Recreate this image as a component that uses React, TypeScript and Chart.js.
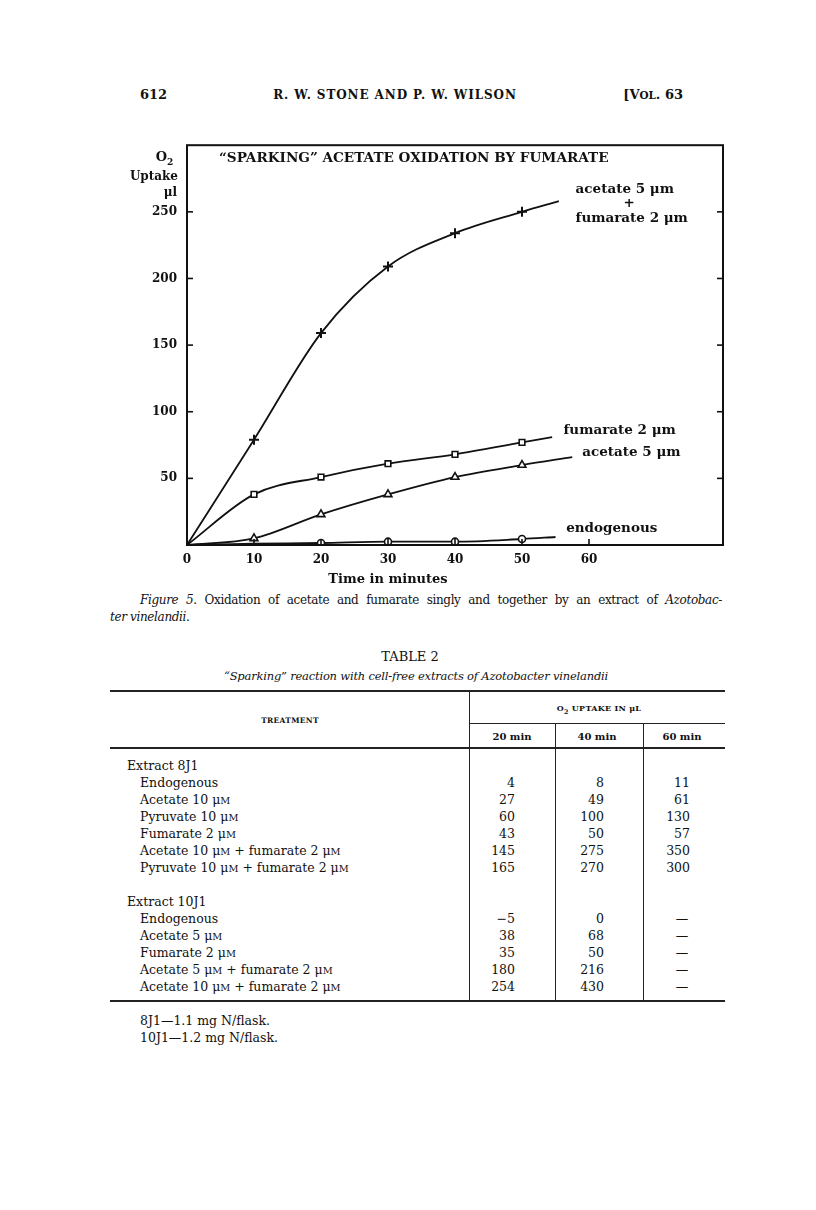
import React, { useEffect, useRef } from "react";
import { Chart, registerables } from "chart.js";

Chart.register(...registerables);

// ---------- Figure 5 data (O2 uptake, µl, vs time, minutes) ----------
const timeMinutes = [0, 10, 20, 30, 40, 50];
const acetatePlusFumarate = [0, 79, 159, 209, 234, 250];
const fumarateOnly = [0, 38, 51, 61, 68, 77];
const acetateOnly = [0, 5, 23, 38, 51, 60];
const endogenousUptake = [0, 1, 1.5, 2.5, 2.5, 4.5];
// the hand-drawn curves run on a little past the last reading
const curveEndTime = [55.5, 54.5, 57.5, 55];
const curveEndValue = [258, 81, 66, 6];
const yTickValues = [50, 100, 150, 200, 250];
const xTickValues = [0, 10, 20, 30, 40, 50, 60];

// ---------- Table 2 data ----------
const extract8J1Treatments = [
  "Endogenous",
  "Acetate 10 μM",
  "Pyruvate 10 μM",
  "Fumarate 2 μM",
  "Acetate 10 μM + fumarate 2 μM",
  "Pyruvate 10 μM + fumarate 2 μM",
];
const extract8J1At20 = [4, 27, 60, 43, 145, 165];
const extract8J1At40 = [8, 49, 100, 50, 275, 270];
const extract8J1At60 = [11, 61, 130, 57, 350, 300];
const extract10J1Treatments = [
  "Endogenous",
  "Acetate 5 μM",
  "Fumarate 2 μM",
  "Acetate 5 μM + fumarate 2 μM",
  "Acetate 10 μM + fumarate 2 μM",
];
const extract10J1At20 = [-5, 38, 35, 180, 254];
const extract10J1At40 = [0, 68, 50, 216, 430];
const extract10J1At60: (number | null)[] = [null, null, null, null, null];

const SERIF = '"DejaVu Serif", serif';
const INK = "#111";

type TP = {
  x: number;
  y: number;
  align?: "left" | "center" | "right";
  size?: number;
  bold?: boolean;
  italic?: boolean;
  children: React.ReactNode;
  style?: React.CSSProperties;
};

function T({ x, y, align = "left", size = 12, bold, italic, children, style }: TP) {
  const s: React.CSSProperties = {
    position: "absolute",
    top: y - size * 0.6,
    whiteSpace: "nowrap",
    fontFamily: SERIF,
    fontSize: size,
    lineHeight: `${size * 1.2}px`,
    fontWeight: bold ? "bold" : "normal",
    fontStyle: italic ? "italic" : "normal",
    color: INK,
    ...style,
  };
  if (align === "left") s.left = x;
  else if (align === "right") s.right = 816 - x;
  else {
    s.left = x;
    s.transform = "translateX(-50%)";
  }
  return <div style={s}>{children}</div>;
}

function Rule({ x1, x2, y, w = 1 }: { x1: number; x2: number; y: number; w?: number }) {
  return (
    <div style={{ position: "absolute", left: x1, top: y - w / 2, width: x2 - x1, height: w, background: "#222" }} />
  );
}
function VRule({ x, y1, y2, w = 1 }: { x: number; y1: number; y2: number; w?: number }) {
  return (
    <div style={{ position: "absolute", left: x - w / 2, top: y1, width: w, height: y2 - y1, background: "#222" }} />
  );
}

function treatmentText(s: string) {
  const parts = s.split("μM");
  const out: React.ReactNode[] = [];
  parts.forEach((p, i) => {
    out.push(<span key={"p" + i}>{p}</span>);
    if (i < parts.length - 1)
      out.push(
        <span key={"u" + i}>
          μ<span style={{ fontSize: "0.78em" }}>M</span>
        </span>
      );
  });
  return out;
}

function fmt(v: number | null) {
  if (v === null) return "—";
  return v < 0 ? "−" + Math.abs(v) : String(v);
}

function UptakeChart() {
  const ref = useRef<HTMLCanvasElement | null>(null);
  useEffect(() => {
    if (!ref.current) return;
    const seriesValues = [acetatePlusFumarate, fumarateOnly, acetateOnly, endogenousUptake];
    const styles: any[] = ["cross", "rect", "triangle", "circle"];
    const radii = [5, 4, 4.5, 3.5];
    const datasets = seriesValues.map((vals, k) => {
      const pts = timeMinutes.map((t, i) => ({ x: t, y: vals[i] }));
      pts.push({ x: curveEndTime[k], y: curveEndValue[k] });
      const r = pts.map((p, i) => (i === 0 || i === pts.length - 1 ? 0 : k === 3 && i === 1 ? 0 : radii[k]));
      return {
        data: pts,
        borderColor: INK,
        borderWidth: 1.8,
        pointStyle: styles[k],
        pointRadius: r,
        pointBorderWidth: k === 0 ? 2 : 1.6,
        pointBorderColor: INK,
        pointBackgroundColor: "#fff",
        cubicInterpolationMode: "monotone" as const,
        tension: 0.4,
        fill: false,
      };
    });

    const decor = {
      id: "decor",
      afterDraw(chart: any) {
        const { ctx, chartArea: a, scales } = chart;
        const xs = scales.x;
        const ys = scales.y;
        ctx.save();
        ctx.strokeStyle = INK;
        ctx.lineWidth = 2;
        ctx.strokeRect(a.left, a.top, a.right - a.left, a.bottom - a.top);
        ctx.lineWidth = 1.6;
        const line = (x1: number, y1: number, x2: number, y2: number) => {
          ctx.beginPath();
          ctx.moveTo(x1, y1);
          ctx.lineTo(x2, y2);
          ctx.stroke();
        };
        yTickValues.forEach((v) => {
          const py = ys.getPixelForValue(v);
          line(a.left, py, a.left + 6, py);
          line(a.right - 6, py, a.right, py);
        });
        xTickValues.slice(1).forEach((v) => {
          const px = xs.getPixelForValue(v);
          line(px, a.bottom, px, a.bottom - 6);
        });

        ctx.fillStyle = INK;
        ctx.textBaseline = "middle";
        const font = (size: number, bold = true) => `${bold ? "bold " : ""}${size}px "DejaVu Serif"`;

        // axis title (top-left)
        ctx.textAlign = "right";
        ctx.font = font(12);
        ctx.fillText("Uptake", a.left - 9, a.top + 32);
        ctx.fillText("μl", a.left - 10, a.top + 48);
        ctx.font = font(13);
        ctx.fillText("O", a.left - 20, a.top + 12);
        ctx.font = font(9);
        ctx.textAlign = "left";
        ctx.fillText("2", a.left - 20, a.top + 17);

        // chart title
        ctx.font = font(13.6);
        ctx.textAlign = "left";
        ctx.fillText("“SPARKING” ACETATE OXIDATION BY FUMARATE", a.left + 32, a.top + 13);

        // curve labels
        ctx.font = font(13.5);
        const lab = (t: string, xv: number, yv: number, align: CanvasTextAlign = "left") => {
          ctx.textAlign = align;
          ctx.fillText(t, xs.getPixelForValue(xv), ys.getPixelForValue(yv));
        };
        lab("acetate 5 μm", 58, 267);
        lab("+", 66, 256, "center");
        lab("fumarate 2 μm", 58, 245);
        lab("fumarate 2 μm", 56.2, 86);
        lab("acetate 5 μm", 59, 69.5);
        lab("endogenous", 56.6, 12.5);

        // x axis title
        ctx.font = font(13);
        ctx.textAlign = "center";
        ctx.fillText("Time in minutes", xs.getPixelForValue(30), a.bottom + 35);
        ctx.restore();
      },
    };

    const chart = new Chart(ref.current, {
      type: "line",
      data: { datasets: datasets as any },
      options: {
        animation: false,
        responsive: false,
        maintainAspectRatio: false,
        layout: { padding: { left: 0, right: 17, top: 5, bottom: 0 } },
        plugins: { legend: { display: false }, tooltip: { enabled: false } },
        scales: {
          x: {
            type: "linear",
            min: 0,
            max: 80,
            grid: { display: false, drawTicks: false },
            border: { display: false },
            afterFit: (s: any) => {
              s.height = 45;
            },
            ticks: {
              stepSize: 10,
              autoSkip: false,
              maxRotation: 0,
              padding: 8,
              color: INK,
              font: { family: "DejaVu Serif", size: 12, weight: "bold" },
              callback: (v: any) => (Number(v) <= 60 ? String(v) : ""),
            },
          },
          y: {
            type: "linear",
            min: 0,
            max: 300,
            grid: { display: false, drawTicks: false },
            border: { display: false },
            afterFit: (s: any) => {
              s.width = 87;
            },
            ticks: {
              stepSize: 50,
              padding: 10,
              color: INK,
              font: { family: "DejaVu Serif", size: 12, weight: "bold" },
              callback: (v: any) => (Number(v) > 0 && Number(v) < 300 ? String(v) : ""),
            },
          },
        },
      },
      plugins: [decor],
    });
    return () => chart.destroy();
  }, []);
  return (
    <canvas
      ref={ref}
      width={640}
      height={462}
      style={{ position: "absolute", left: 100, top: 128, width: 640, height: 462 }}
    />
  );
}

export default function App() {
  const rowH = 17;
  const firstRowY = 765;
  const block2Y = firstRowY + (extract8J1Treatments.length + 2) * rowH;
  const colRight = [515, 604, 690];
  const rows: React.ReactNode[] = [];
  const addBlock = (
    title: string,
    y0: number,
    names: string[],
    a: (number | null)[],
    b: (number | null)[],
    c: (number | null)[]
  ) => {
    rows.push(
      <T key={title} x={127} y={y0} size={12.5}>
        {title}
      </T>
    );
    names.forEach((n, i) => {
      const y = y0 + (i + 1) * rowH;
      rows.push(
        <T key={title + n + "n"} x={140} y={y} size={12.5}>
          {treatmentText(n)}
        </T>
      );
      [a[i], b[i], c[i]].forEach((v, j) => {
        rows.push(
          v === null ? (
            <T key={title + n + j} x={colRight[j] - 8} y={y} align="center" size={12.5}>
              {fmt(v)}
            </T>
          ) : (
            <T key={title + n + j} x={colRight[j]} y={y} align="right" size={12.5}>
              {fmt(v)}
            </T>
          )
        );
      });
    });
  };
  addBlock("Extract 8J1", firstRowY, extract8J1Treatments, extract8J1At20, extract8J1At40, extract8J1At60);
  addBlock("Extract 10J1", block2Y, extract10J1Treatments, extract10J1At20, extract10J1At40, extract10J1At60);

  return (
    <div
      style={{
        position: "absolute",
        left: 0,
        top: 0,
        width: 816,
        height: 1210,
        background: "#fff",
        overflow: "hidden",
        fontFamily: SERIF,
        color: INK,
      }}
    >
      {/* running head */}
      <T x={140} y={95} size={13} bold>
        612
      </T>
      <T x={395} y={95} size={12} bold align="center" style={{ letterSpacing: 0.9 }}>
        R. W. STONE AND P. W. WILSON
      </T>
      <T x={683} y={95} size={13} bold align="right">
        [V<span style={{ fontSize: "0.8em" }}>OL</span>. 63
      </T>

      <UptakeChart />

      {/* figure caption */}
      <div
        style={{
          position: "absolute",
          left: 140,
          top: 592,
          width: 582,
          fontFamily: SERIF,
          fontSize: 12,
          lineHeight: "17px",
          letterSpacing: -0.35,
          textAlign: "justify",
          textAlignLast: "justify" as any,
          color: INK,
        }}
      >
        <i>Figure 5</i>. Oxidation of acetate and fumarate singly and together by an extract of <i>Azotobac-</i>
      </div>
      <T x={110} y={617} size={12} style={{ letterSpacing: -0.35 }}>
        <i>ter vinelandii</i>.
      </T>

      {/* table heading */}
      <T x={410} y={657} size={13} align="center">
        TABLE 2
      </T>
      <T x={416} y={677} size={11.5} italic align="center" style={{ letterSpacing: -0.2 }}>
        “Sparking” reaction with cell-free extracts of Azotobacter vinelandii
      </T>

      {/* table rules */}
      <Rule x1={110} x2={725} y={691} w={2} />
      <Rule x1={469} x2={725} y={723} w={1} />
      <Rule x1={110} x2={725} y={748} w={1.5} />
      <Rule x1={110} x2={725} y={1001} w={2} />
      <VRule x={469} y1={691} y2={1001} />
      <VRule x={555} y1={723} y2={1001} />
      <VRule x={643} y1={723} y2={1001} />

      <T x={290} y={720} size={7.5} bold align="center" style={{ letterSpacing: 0.3 }}>
        TREATMENT
      </T>
      <T x={599} y={709} size={8} bold align="center" style={{ letterSpacing: 0.3 }}>
        O<sub style={{ fontSize: "0.8em" }}>2</sub> UPTAKE IN μL
      </T>
      <T x={512} y={737} size={10} bold align="center">
        20 min
      </T>
      <T x={597} y={737} size={10} bold align="center">
        40 min
      </T>
      <T x={682} y={737} size={10} bold align="center">
        60 min
      </T>

      {rows}

      {/* footnotes */}
      <T x={140} y={1020} size={12.5}>
        8J1—1.1 mg N/flask.
      </T>
      <T x={140} y={1037} size={12.5}>
        10J1—1.2 mg N/flask.
      </T>
    </div>
  );
}
